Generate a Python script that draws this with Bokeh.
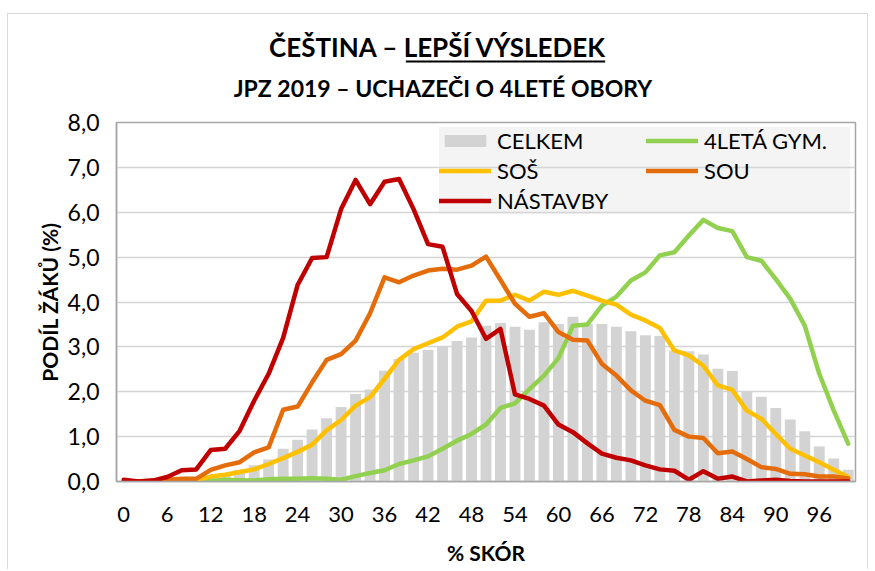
from bokeh.plotting import figure
from bokeh.layouts import column
from bokeh.models import (ColumnDataSource, FixedTicker, Legend, LegendItem, Range1d)
from bokeh.core.properties import value
from bokeh.embed import file_html
from bokeh.resources import INLINE

# ---------------- data ----------------
score = list(range(0, 101, 2))

celkem = [0.01, 0.01, 0.02, 0.03, 0.05, 0.07, 0.10, 0.16, 0.26, 0.36,
          0.49, 0.73, 0.93, 1.16, 1.41, 1.66, 1.95, 2.05, 2.47, 2.73,
          2.87, 2.93, 3.01, 3.13, 3.21, 3.47, 3.53, 3.45, 3.38, 3.55,
          3.51, 3.67, 3.51, 3.51, 3.45, 3.35, 3.26, 3.24, 2.92, 2.90,
          2.83, 2.51, 2.46, 2.00, 1.89, 1.64, 1.38, 1.12, 0.78, 0.51, 0.26]

gym4 = [0.00, 0.00, 0.00, 0.00, 0.00, 0.01, 0.01, 0.04, 0.03, 0.02,
        0.05, 0.06, 0.06, 0.07, 0.06, 0.04, 0.12, 0.19, 0.25, 0.39,
        0.47, 0.56, 0.73, 0.91, 1.06, 1.27, 1.64, 1.74, 2.06, 2.36,
        2.75, 3.47, 3.50, 3.92, 4.12, 4.48, 4.66, 5.04, 5.11, 5.48,
        5.83, 5.65, 5.58, 5.00, 4.92, 4.51, 4.07, 3.47, 2.40, 1.58, 0.84]

sos = [0.00, 0.00, 0.00, 0.00, 0.01, 0.03, 0.11, 0.15, 0.21, 0.27,
       0.39, 0.52, 0.66, 0.82, 1.14, 1.37, 1.69, 1.88, 2.29, 2.71,
       2.95, 3.08, 3.21, 3.45, 3.57, 4.03, 4.03, 4.16, 4.03, 4.23,
       4.16, 4.25, 4.14, 4.03, 3.94, 3.72, 3.59, 3.42, 2.92, 2.81,
       2.58, 2.14, 2.04, 1.58, 1.40, 1.06, 0.73, 0.58, 0.43, 0.26, 0.10]

sou = [0.00, 0.00, 0.02, 0.04, 0.06, 0.06, 0.26, 0.36, 0.43, 0.65,
       0.76, 1.60, 1.67, 2.21, 2.71, 2.84, 3.14, 3.75, 4.55, 4.44,
       4.59, 4.70, 4.74, 4.72, 4.81, 5.01, 4.49, 3.96, 3.67, 3.75,
       3.33, 3.16, 3.14, 2.62, 2.36, 2.03, 1.80, 1.70, 1.15, 1.00,
       0.97, 0.63, 0.67, 0.50, 0.32, 0.28, 0.17, 0.16, 0.11, 0.11, 0.07]

nastavby = [0.04, 0.00, 0.02, 0.10, 0.25, 0.27, 0.70, 0.73, 1.13, 1.80,
            2.40, 3.20, 4.38, 4.98, 5.00, 6.07, 6.72, 6.18, 6.68, 6.74,
            6.07, 5.29, 5.23, 4.18, 3.80, 3.18, 3.40, 1.94, 1.84, 1.69,
            1.27, 1.10, 0.85, 0.62, 0.53, 0.47, 0.36, 0.27, 0.24, 0.04,
            0.23, 0.06, 0.11, 0.00, 0.02, 0.04, 0.01, 0.00, 0.00, 0.00, 0.00]

series_names = ["CELKEM", "4LETÁ GYM.", "SOŠ", "SOU", "NÁSTAVBY"]
x_ticks = list(range(0, 97, 6))
y_ticks = [0, 1, 2, 3, 4, 5, 6, 7, 8]
y_tick_labels = ["0,0", "1,0", "2,0", "3,0", "4,0", "5,0", "6,0", "7,0", "8,0"]

title_text = "ČEŠTINA – LEPŠÍ VÝSLEDEK"
subtitle_text = "JPZ 2019 – UCHAZEČI O 4LETÉ OBORY"
x_title = "% SKÓR"
y_title = "PODÍL ŽÁKŮ (%)"

FONT = "Lato"
W = 859          # inner width (outer light-grey border at page x=8 and x=868)
TOP = 14         # page y of the outer border top line
TITLE_H = 93
MAIN_H = 462

# ---------------- heading (title + subtitle) ----------------
# heading frame is aligned with the chart frame (page x 117..855)
t = figure(width=W, height=TITLE_H, output_backend="svg", toolbar_location=None,
           x_range=Range1d(117, 855), y_range=Range1d(TOP + TITLE_H, TOP),
           x_axis_location=None, y_axis_location=None,
           min_border=0, outline_line_color=None)
t.grid.visible = False
t.text(x=[438], y=[46], text=[title_text], text_align="center",
       text_baseline="middle", text_font=value(FONT), text_font_style="bold",
       text_font_size="26px", text_color="#000000")
t.text(x=[443], y=[87], text=[subtitle_text], text_align="center",
       text_baseline="middle", text_font=value(FONT), text_font_style="bold",
       text_font_size="23px", text_color="#000000")
t.segment(x0=[406], y0=[61], x1=[605], y1=[61], line_width=2, line_color="#000000")

# ---------------- main chart ----------------
src = ColumnDataSource(dict(score=score, celkem=celkem, gym4=gym4, sos=sos,
                            sou=sou, nastavby=nastavby))

p = figure(width=W, height=MAIN_H, output_backend="svg", toolbar_location=None,
           x_range=Range1d(-1, 101), y_range=Range1d(0, 8),
           min_border_left=108, min_border_right=12, min_border_top=15,
           min_border_bottom=88)

p.outline_line_color = "#a6a6a6"
p.outline_line_width = 1.5
p.xgrid.visible = False
p.ygrid.grid_line_color = "#d4d4d4"
p.ygrid.grid_line_width = 1.5

for ax in (p.xaxis, p.yaxis):
    ax.axis_line_color = "#a6a6a6"
    ax.axis_line_width = 1.5
    ax.major_tick_line_color = None
    ax.minor_tick_line_color = None
    ax.major_tick_out = 0
    ax.minor_tick_out = 0
    ax.major_label_text_font = FONT
    ax.major_label_text_color = "#000000"
    ax.axis_label_text_font = FONT
    ax.axis_label_text_font_style = "bold"
    ax.axis_label_text_font_size = "21px"
    ax.axis_label_text_color = "#000000"

p.xaxis.ticker = FixedTicker(ticks=x_ticks)
p.xaxis.major_label_text_font_size = "22px"
p.xaxis.major_label_standoff = 25
p.xaxis.axis_label = x_title
p.xaxis.axis_label_standoff = 15

p.yaxis.ticker = FixedTicker(ticks=y_ticks)
p.yaxis.major_label_overrides = dict(zip(y_ticks, y_tick_labels))
p.yaxis.major_label_text_font_size = "23px"
p.yaxis.major_label_standoff = 17
p.yaxis.axis_label = y_title
p.yaxis.axis_label_standoff = 3

r_bar = p.vbar(x="score", top="celkem", width=1.5, source=src,
               fill_color="#d3d3d3", line_color=None)
line_kw = dict(line_width=4.5, line_join="round", line_cap="round")
r_gym = p.line("score", "gym4", source=src, line_color="#92d050", **line_kw)
r_sos = p.line("score", "sos", source=src, line_color="#ffc000", **line_kw)
r_sou = p.line("score", "sou", source=src, line_color="#e46c0a", **line_kw)
r_nas = p.line("score", "nastavby", source=src, line_color="#c00000", **line_kw)

rend = dict(zip(series_names, [r_bar, r_gym, r_sos, r_sou, r_nas]))
# column-major fill: first column CELKEM/SOŠ/NÁSTAVBY, second 4LETÁ GYM./SOU
legend_order = ["CELKEM", "SOŠ", "NÁSTAVBY", "4LETÁ GYM.", "SOU"]
legend = Legend(items=[LegendItem(label=n, renderers=[rend[n]]) for n in legend_order],
                ncols=2, location="top_right",
                background_fill_color="#d9d9d9", background_fill_alpha=0.3,
                border_line_color=None, label_text_font=FONT,
                label_text_font_size="22px", label_text_color="#000000",
                glyph_width=52, glyph_height=15,
                label_standoff=6, spacing=3, padding=4, margin=5,
                label_height=20, label_width=146)
p.add_layout(legend)

layout = column(t, p, spacing=0,
                styles={"margin-left": "7px", "margin-top": f"{TOP - 1}px",
                        "border-left": "1px solid #d9d9d9",
                        "border-right": "1px solid #d9d9d9",
                        "border-top": "1px solid #d9d9d9"})

open("out.html", "w").write(file_html(layout, INLINE))
